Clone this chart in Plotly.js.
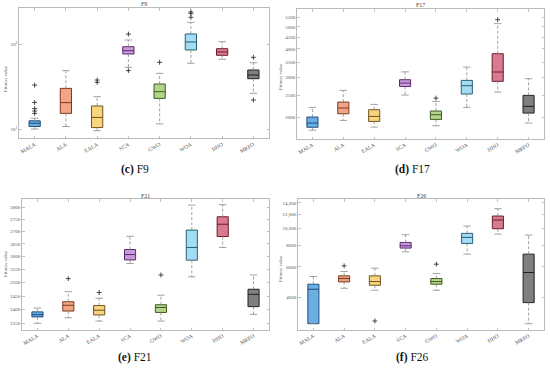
<!DOCTYPE html>
<html>
<head>
<meta charset="utf-8">
<script src="https://cdn.plot.ly/plotly-3.0.1.min.js"></script>
<style>html,body{margin:0;padding:0;background:#fff}#plot{width:550px;height:368px}</style>
</head>
<body>
<div id="plot"></div>
<script>
// ---------- data ----------
const categories = ['MALA','ALA','EALA','SCA','GWO','WOA','HHO','MRFO'];

// F9
const f9_q1  = [10.7, 15.3, 10.4, 76.9, 23.0, 85.8, 74.2, 39.3];
const f9_med = [11.7, 20.5, 13.7, 84.1, 27.6, 106.6, 81.2, 43.4];
const f9_q3  = [12.5, 30.2, 18.7, 93.8, 34.0, 132.5, 88.9, 49.8];
const f9_lo  = [10.0, 10.7, 9.56, 53.4, 11.5, 59.7, 66.6, 26.4];
const f9_hi  = [13.4, 48.9, 24.1, 112.5, 45.4, 182, 107.5, 60.7];
const f9_outCat = ['MALA','MALA','MALA','MALA','MALA','EALA','EALA','SCA','SCA','GWO','WOA','WOA','WOA','MRFO','MRFO'];
const f9_outVal = [33, 20.6, 17.4, 16.3, 15.3, 37.9, 35.6, 132, 48.9, 61.3, 208.5, 232, 241, 70.2, 22.0];

// F17
const f17_q1  = [1810, 2075, 1920, 2735, 1960, 2535, 2882, 2089];
const f17_med = [1889, 2199, 2020, 2832, 2055, 2758, 3168, 2236];
const f17_q3  = [2007, 2336, 2162, 2930, 2133, 2910, 3814, 2500];
const f17_lo  = [1757, 1940, 1813, 2508, 1838, 2213, 2586, 1889];
const f17_hi  = [2213, 2630, 2282, 3174, 2352, 3330, 5170, 2961];
const f17_outCat = ['GWO','HHO'];
const f17_outVal = [2431, 5383];

// F21
const f21_q1  = [2374, 2395, 2381, 2587, 2390, 2586, 2680, 2411];
const f21_med = [2382, 2416, 2398, 2608, 2408, 2636, 2730, 2456];
const f21_q3  = [2392, 2429, 2415, 2628, 2418, 2706, 2761, 2475];
const f21_lo  = [2351, 2371, 2359, 2573, 2359, 2522, 2636, 2383];
const f21_hi  = [2406, 2466, 2442, 2681, 2453, 2810, 2812, 2529];
const f21_outCat = ['ALA','EALA','GWO'];
const f21_outVal = [2515, 2463, 2529];

// F26
const f26_q1  = [2832, 4925, 4711, 7705, 4775, 8195, 9955, 3743];
const f26_med = [4468, 5147, 4947, 7945, 4947, 8877, 11172, 5576];
const f26_q3  = [4775, 5335, 5335, 8305, 5147, 9360, 11780, 7113];
const f26_lo  = [2832, 4527, 4410, 7335, 4410, 7113, 9276, 2832];
const f26_hi  = [5288, 5650, 5904, 9196, 5500, 10316, 12985, 9153];
const f26_outCat = ['ALA','EALA','GWO'];
const f26_outVal = [6090, 2934, 6228];

// tick labels
const f9_tickVals = [10, 100];
const f9_tickText = ['10<sup>1</sup>', '10<sup>2</sup>'];
const f17_tickVals = [2000,2500,3000,3500,4000,4500,5000,5500,6000];
const f17_tickText = ['2000','2500','3000','3500','4000','4500','5000','5500','6000'];
const f21_tickVals = [2350,2400,2450,2500,2550,2600,2650,2700,2750,2800];
const f21_tickText = ['2350','2400','2450','2500','2550','2600','2650','2700','2750','2800'];
const f26_tickVals = [4000,6000,8000,10000,12000,14000];
const f26_tickText = ['4000','6000','8000','10,000','12,000','14,000'];

const panelTitles = ['F9','F17','F21','F26'];
const captionLetters = ['(c)','(d)','(e)','(f)'];

// ---------- styling ----------
const fills = ['#6aaee3','#f2a584','#f8d57e','#c99ad9','#b2d58a','#a3dcf5','#d97a8e','#7f7f7f'];
const edges = ['#1f4e79','#7a3a20','#6e5520','#5b2c6f','#3f5a22','#2b5f75','#6b1f2e','#222222'];
const W = 550, H = 368;
const FONT = 'Liberation Serif, Times New Roman, serif';
const px = x => x / W;
const py = y => 1 - y / H;

const panels = [
  {q1:f9_q1, med:f9_med, q3:f9_q3, lo:f9_lo, hi:f9_hi, oc:f9_outCat, ov:f9_outVal,
   tv:f9_tickVals, tt:f9_tickText, box:[19,269,8,138.5], yr:[0.888,2.429], ytx:5, yty:79, tty:4.5},
  {q1:f17_q1, med:f17_med, q3:f17_q3, lo:f17_lo, hi:f17_hi, oc:f17_outCat, ov:f17_outVal,
   tv:f17_tickVals, tt:f17_tickText, box:[297,544,9,139], yr:[3.206,3.778], ytx:280, yty:76, tty:4.8},
  {q1:f21_q1, med:f21_med, q3:f21_q3, lo:f21_lo, hi:f21_hi, oc:f21_outCat, ov:f21_outVal,
   tv:f21_tickVals, tt:f21_tickText, box:[22,269,199,330], yr:[3.3669,3.4527], ytx:5, yty:264, tty:195.5},
  {q1:f26_q1, med:f26_med, q3:f26_q3, lo:f26_lo, hi:f26_hi, oc:f26_outCat, ov:f26_outVal,
   tv:f26_tickVals, tt:f26_tickText, box:[298,544,199,330], yr:[3.4157,4.1691], ytx:280, yty:268, tty:195.5}
];
const captionPos = [[135,169],[412,169],[135,357],[412,357]];

const traces = [];
const layout = {
  width: W, height: H,
  margin: {l:0, r:0, t:0, b:0},
  paper_bgcolor: '#ffffff', plot_bgcolor: '#ffffff',
  showlegend: false,
  font: {family: FONT, size: 5.5, color: '#555'},
  annotations: []
};

panels.forEach((p, k) => {
  const xa = k === 0 ? 'x' : 'x' + (k + 1);
  const ya = k === 0 ? 'y' : 'y' + (k + 1);
  const xKey = k === 0 ? 'xaxis' : 'xaxis' + (k + 1);
  const yKey = k === 0 ? 'yaxis' : 'yaxis' + (k + 1);
  const [x0, x1, y0, y1] = p.box;

  // whiskers (dashed) and caps
  const wx = [], wy = [], cx = [], cy = [];
  categories.forEach((c, i) => {
    wx.push(i, i, null, i, i, null);
    wy.push(p.q3[i], p.hi[i], null, p.q1[i], p.lo[i], null);
    cx.push(i - 0.12, i + 0.12, null, i - 0.12, i + 0.12, null);
    cy.push(p.hi[i], p.hi[i], null, p.lo[i], p.lo[i], null);
  });
  traces.push({type:'scatter', mode:'lines', x:wx, y:wy, xaxis:xa, yaxis:ya,
    line:{color:'#8a8a8a', width:0.8, dash:'3px,2px'}, hoverinfo:'skip', connectgaps:false});
  traces.push({type:'scatter', mode:'lines', x:cx, y:cy, xaxis:xa, yaxis:ya,
    line:{color:'#8a8a8a', width:0.8}, hoverinfo:'skip', connectgaps:false});

  // boxes
  categories.forEach((c, i) => {
    traces.push({
      type:'box', x:[i], q1:[p.q1[i]], median:[p.med[i]], q3:[p.q3[i]],
      lowerfence:[p.q1[i]], upperfence:[p.q3[i]],
      xaxis:xa, yaxis:ya, width:0.36, whiskerwidth:0, boxpoints:false,
      fillcolor: fills[i], line:{color: edges[i], width:1}, hoverinfo:'skip'
    });
  });

  // outliers
  traces.push({type:'scatter', mode:'markers',
    x: p.oc.map(c => categories.indexOf(c)), y: p.ov, xaxis:xa, yaxis:ya,
    marker:{symbol:'cross-thin', size:3.5, line:{color:'#333', width:0.9}, color:'#333'},
    hoverinfo:'skip'});

  layout[xKey] = {
    domain:[px(x0), px(x1)], anchor: ya, type:'linear', range:[-0.5, 7.5],
    tickmode:'array', tickvals: categories.map((c, i) => i), ticktext: categories,
    tickangle: -30, ticks:'inside', ticklen:2.5, tickcolor:'#999', tickwidth:0.6,
    showline:true, linecolor:'#aaa', linewidth:0.8, mirror:'ticks',
    showgrid:false, zeroline:false, fixedrange:true,
    tickfont:{family:FONT, size:5.5, color:'#555'}
  };
  layout[yKey] = {
    domain:[py(y1), py(y0)], anchor: xa, type:'log', range: p.yr,
    tickmode:'array', tickvals:p.tv, ticktext:p.tt,
    ticks:'inside', ticklen:2.5, tickcolor:'#999', tickwidth:0.6,
    showline:true, linecolor:'#aaa', linewidth:0.8, mirror:'ticks',
    showgrid:false, zeroline:false, fixedrange:true,
    tickfont:{family:FONT, size:5, color:'#555'}
  };

  // panel title
  layout.annotations.push({text: panelTitles[k], xref:'paper', yref:'paper',
    x: px((x0 + x1) / 2), y: py(p.tty), xanchor:'center', yanchor:'middle',
    showarrow:false, font:{family:FONT, size:6, color:'#444'}});
  // y axis title
  layout.annotations.push({text:'Fitness value', xref:'paper', yref:'paper',
    x: px(p.ytx), y: py(p.yty), xanchor:'center', yanchor:'middle', textangle:-90,
    showarrow:false, font:{family:FONT, size:5, color:'#555'}});
  // caption
  layout.annotations.push({text:'<b>' + captionLetters[k] + '</b> ' + panelTitles[k],
    xref:'paper', yref:'paper', x: px(captionPos[k][0]), y: py(captionPos[k][1]),
    xanchor:'center', yanchor:'middle', showarrow:false,
    font:{family:FONT, size:11.5, color:'#111'}});
});

Plotly.newPlot('plot', traces, layout, {staticPlot:true, displayModeBar:false});
</script>
</body>
</html>
